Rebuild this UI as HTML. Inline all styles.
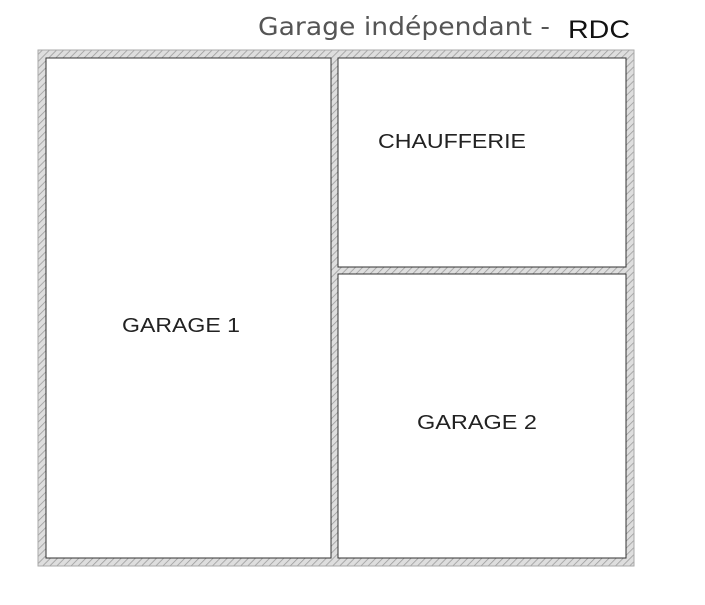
<!DOCTYPE html>
<html><head><meta charset="utf-8"><style>
body{margin:0;background:#fff;width:705px;height:600px;overflow:hidden}
</style></head><body>
<svg width="705" height="600" xmlns="http://www.w3.org/2000/svg">
<defs>
<pattern id="h" width="5" height="5" patternUnits="userSpaceOnUse" patternTransform="rotate(45)">
<rect width="5" height="5" fill="#dedede"/>
<line x1="0" y1="0" x2="0" y2="5" stroke="#999" stroke-width="1.5"/>
</pattern>
</defs>
<text x="258" y="35" textLength="292" lengthAdjust="spacingAndGlyphs" font-family="'Comic Sans MS','DejaVu Sans',sans-serif" font-size="25" fill="#555">Garage indépendant -</text>
<text x="568" y="38" textLength="62" lengthAdjust="spacingAndGlyphs" font-family="'Liberation Sans',sans-serif" font-size="25" fill="#111">RDC</text>
<rect x="38" y="50" width="596" height="8" fill="url(#h)"/>
<rect x="38" y="558" width="596" height="8" fill="url(#h)"/>
<rect x="38" y="50" width="8" height="516" fill="url(#h)"/>
<rect x="626" y="50" width="8" height="516" fill="url(#h)"/>
<rect x="331" y="50" width="7" height="516" fill="url(#h)"/>
<rect x="338" y="267" width="288" height="7" fill="url(#h)"/>
<g fill="none" stroke="#333" stroke-width="1">
<rect x="46" y="58" width="285" height="500"/>
<rect x="338" y="58" width="288" height="209"/>
<rect x="338" y="274" width="288" height="284"/>
<rect x="38" y="50" width="596" height="516" stroke="#aaa"/>
</g>
<g font-family="'Liberation Sans',sans-serif" font-size="20" fill="#222">
<text x="122" y="332" textLength="118" lengthAdjust="spacingAndGlyphs">GARAGE 1</text>
<text x="378" y="148" textLength="148" lengthAdjust="spacingAndGlyphs">CHAUFFERIE</text>
<text x="417" y="429" textLength="120" lengthAdjust="spacingAndGlyphs">GARAGE 2</text>
</g>
</svg>
</body></html>
